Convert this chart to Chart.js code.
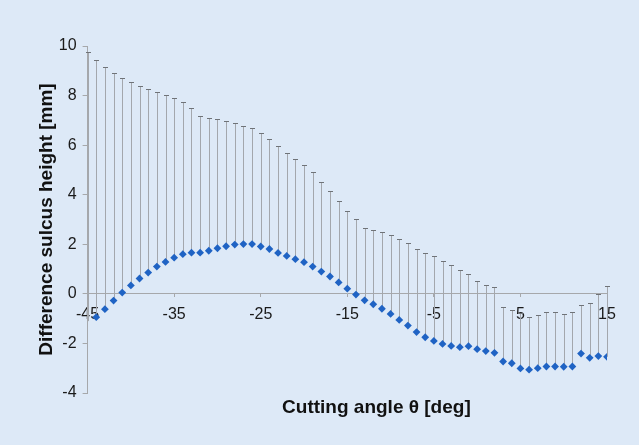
<!DOCTYPE html>
<html>
<head>
<meta charset="utf-8">
<script src="https://cdn.jsdelivr.net/npm/chart.js@4/dist/chart.umd.min.js"></script>
<style>
    html, body { margin: 0; padding: 0; background: #dde9f7; }
    #wrap { width: 639px; height: 445px; }
</style>
</head>
<body>
<div id="wrap"><canvas id="chart" width="639" height="445"></canvas></div>
<script>
/* --------------------------
   DATA
-------------------------- */
const angles = [-45, -44, -43, -42, -41, -40, -39, -38, -37, -36, -35, -34, -33, -32, -31, -30,
    -29, -28, -27, -26, -25, -24, -23, -22, -21, -20, -19, -18, -17, -16, -15, -14, -13, -12,
    -11, -10, -9, -8, -7, -6, -5, -4, -3, -2, -1, 0, 1, 2, 3, 4, 5, 6, 7, 8, 9, 10, 11, 12, 13, 14, 15];

const meanDiff = [-1.10, -0.94, -0.62, -0.27, 0.05, 0.34, 0.62, 0.86, 1.10, 1.29, 1.46, 1.60, 1.66,
    1.66, 1.74, 1.84, 1.92, 1.99, 2.01, 2.01, 1.91, 1.81, 1.65, 1.53, 1.40, 1.28, 1.10, 0.90, 0.70,
    0.46, 0.21, -0.03, -0.26, -0.42, -0.60, -0.81, -1.05, -1.28, -1.54, -1.75, -1.90, -2.02, -2.10,
    -2.15, -2.11, -2.23, -2.31, -2.38, -2.73, -2.80, -3.01, -3.06, -3.00, -2.93, -2.93, -2.94, -2.93,
    -2.41, -2.58, -2.51, -2.54];

const upperDiff = [9.76, 9.42, 9.15, 8.93, 8.72, 8.55, 8.39, 8.26, 8.13, 8.01, 7.91, 7.74, 7.49,
    7.18, 7.11, 7.05, 6.98, 6.90, 6.79, 6.68, 6.47, 6.26, 5.96, 5.70, 5.44, 5.19, 4.90, 4.52, 4.15,
    3.74, 3.36, 3.01, 2.67, 2.59, 2.48, 2.39, 2.23, 2.04, 1.80, 1.64, 1.52, 1.34, 1.15, 0.96, 0.81,
    0.53, 0.34, 0.26, -0.54, -0.65, -0.78, -0.94, -0.85, -0.74, -0.75, -0.81, -0.75, -0.46, -0.35,
    0.00, 0.32];

const xTickValues = [-45, -35, -25, -15, -5, 5, 15];
const yTickValues = [-4, -2, 0, 2, 4, 6, 8, 10];

const xTitle = "Cutting angle θ [deg]";
const yTitle = "Difference sulcus height [mm]";

/* --------------------------
   ERROR BARS (upper only)
-------------------------- */
const errorBars = {
    id: "errorBars",
    beforeDatasetsDraw(chart) {
        const { ctx, scales: { x, y } } = chart;
        ctx.save();
        ctx.lineWidth = 1;
        angles.forEach((a, i) => {
            const px = Math.round(x.getPixelForValue(a)) + 0.5;
            const y0 = y.getPixelForValue(meanDiff[i]);
            const y1 = Math.round(y.getPixelForValue(upperDiff[i])) + 0.5;
            ctx.strokeStyle = "#a3a7ad";
            ctx.beginPath();
            ctx.moveTo(px, y0);
            ctx.lineTo(px, y1);
            ctx.stroke();
            ctx.strokeStyle = "#6f7378";
            ctx.beginPath();
            ctx.moveTo(px - 2.5, y1);
            ctx.lineTo(px + 2.5, y1);
            ctx.stroke();
        });
        ctx.restore();
    }
};

/* --------------------------
   BACKGROUND + X TITLE
-------------------------- */
const bgFill = {
    id: "bgFill",
    beforeDraw(chart) {
        const ctx = chart.ctx;
        ctx.save();
        ctx.fillStyle = "#dde9f7";
        ctx.fillRect(0, 0, chart.width, chart.height);
        ctx.restore();
    },
    afterDraw(chart) {
        const { ctx, chartArea } = chart;
        ctx.save();
        ctx.font = "bold 19px 'Liberation Sans', Arial, sans-serif";
        ctx.fillStyle = "#111";
        ctx.textAlign = "center";
        ctx.textBaseline = "middle";
        ctx.fillText(xTitle, chartArea.left + chartArea.width * 0.556, chartArea.bottom + 15);
        ctx.restore();
    }
};

/* --------------------------
   CHART
-------------------------- */
const tickFont = { family: "'Liberation Sans', Arial, sans-serif", size: 16 };
const titleFont = { family: "'Liberation Sans', Arial, sans-serif", size: 19, weight: "bold" };
const axisGrey = "#a6a8ab";

new Chart(document.getElementById("chart"), {
    type: "scatter",
    data: {
        datasets: [{
            data: angles.map((a, i) => ({ x: a, y: meanDiff[i] })),
            pointStyle: "rectRot",
            pointRadius: angles.map((a, i) => (i === 0 ? 0 : 3.9)),
            backgroundColor: "#1f63c4",
            borderColor: "#1f63c4",
            borderWidth: 0
        }]
    },
    options: {
        responsive: false,
        animation: false,
        layout: { padding: { left: 30, right: 32, top: 46, bottom: 52 } },
        plugins: {
            legend: { display: false },
            tooltip: { enabled: false }
        },
        scales: {
            x: {
                type: "linear",
                position: { y: 0 },
                min: -45,
                max: 15,
                afterBuildTicks: axis => { axis.ticks = xTickValues.map(v => ({ value: v })); },
                grid: { drawOnChartArea: false, drawTicks: true, tickLength: 3, color: axisGrey },
                border: { display: true, color: axisGrey, width: 1 },
                ticks: { font: tickFont, color: "#1a1a1a", padding: 8, maxRotation: 0 }
            },
            y: {
                position: "left",
                min: -4,
                max: 10,
                afterBuildTicks: axis => { axis.ticks = yTickValues.map(v => ({ value: v })); },
                grid: { drawOnChartArea: false, drawTicks: true, tickLength: 5, color: axisGrey },
                border: { display: true, color: axisGrey, width: 1 },
                ticks: { font: tickFont, color: "#1a1a1a", padding: 6 },
                title: {
                    display: true,
                    text: yTitle,
                    font: titleFont,
                    color: "#111",
                    padding: { top: 5, bottom: -5 }
                }
            }
        }
    },
    plugins: [bgFill, errorBars]
});
</script>
</body>
</html>
